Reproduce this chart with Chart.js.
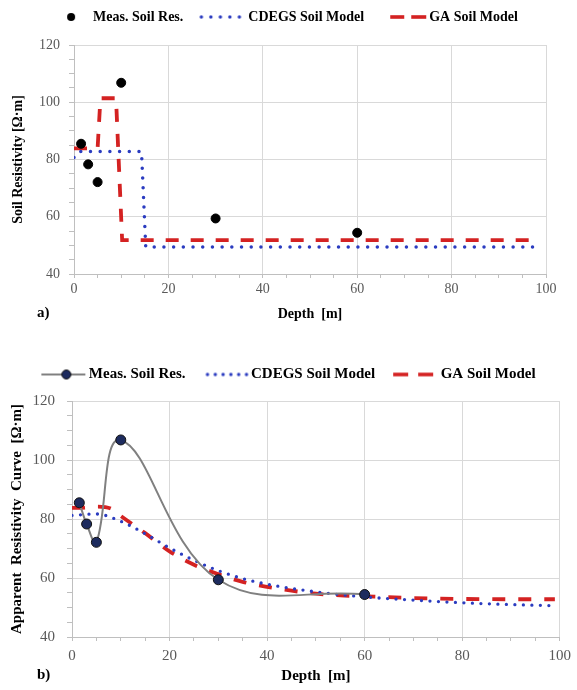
<!DOCTYPE html>
<html>
<head>
<meta charset="utf-8">
<script src="https://cdn.jsdelivr.net/npm/chart.js@4.4.1/dist/chart.umd.min.js"></script>
<style>
  html, body { margin: 0; padding: 0; background: #fff; }
  body { width: 577px; height: 690px; position: relative; overflow: hidden; }
  .box { position: absolute; left: 0; width: 577px; }
  #boxA { top: 0; height: 330px; }
  #boxB { top: 340px; height: 350px; }
  .tag { position: absolute; font: bold 15px 'Liberation Serif', serif; color: #000; }
</style>
</head>
<body>
<div class="box" id="boxA"><canvas id="chartA"></canvas></div>
<div class="box" id="boxB"><canvas id="chartB"></canvas></div>
<div class="tag" style="left:37px; top:304px">a)</div>
<div class="tag" style="left:37px; top:666px">b)</div>

<script>
/* ---------- données ---------- */
const legendLabels = ['Meas. Soil Res.', 'CDEGS Soil Model', 'GA Soil Model'];

// mesures (profondeur m, résistivité Ω·m)
const measDepth = [1.5, 3, 5, 10, 30, 60];
const measRes   = [85.5, 78.3, 72.1, 106.8, 59.4, 54.4];

// a) modèles en couches
const cdegsStepDepth = [0, 1, 14.3, 15.2, 98.5];
const cdegsStepRes   = [80.7, 82.8, 82.8, 49.4, 49.4];
const gaStepDepth    = [0, 5, 5.6, 8.9, 10.2, 97.5];
const gaStepRes      = [83.9, 83.9, 101.4, 101.4, 51.8, 51.8];

// b) courbes de résistivité apparente
const cdegsCurveDepth = [0, 5, 10, 15, 20, 25, 30, 35, 40, 50, 60, 70, 80, 90, 99];
const cdegsCurveRes   = [81.2, 81.7, 79.2, 75, 70.2, 66, 62.5, 59.8, 57.9, 55.3, 53.6, 52.5, 51.6, 51, 50.6];
const gaCurveDepth    = [0, 2, 5, 8, 10, 15, 20, 25, 30, 35, 40, 45, 50, 55, 60, 70, 80, 90, 99];
const gaCurveRes      = [83.8, 83.8, 84.2, 83.5, 81, 75.2, 69, 64.5, 61.3, 58.7, 57, 55.7, 54.7, 54.1, 53.8, 53.2, 52.9, 52.8, 52.8];

const xTicks = [0, 20, 40, 60, 80, 100];
const yTicks = [40, 60, 80, 100, 120];

/* ---------- style ---------- */
const SERIF = "'Liberation Serif', 'Times New Roman', serif";
const BLUE  = '#2b3cc0';
const RED   = '#d42222';
const GREY  = '#808080';
const NAVY  = '#1d2b5e';

const pts = (xs, ys) => xs.map((x, i) => ({ x, y: ys[i] }));

// Icônes de légende : canvas 68px, zone "boîte" de 52px décalée de 8px
function icon(draw) {
  const c = document.createElement('canvas');
  c.width = 68; c.height = 14;
  const g = c.getContext('2d');
  g.translate(8, 7);
  draw(g);
  return c;
}
const dotIcon = (cx) => icon(g => {
  g.fillStyle = '#000';
  g.beginPath(); g.arc(cx, 0, 4, 0, Math.PI * 2); g.fill();
});
const dotsIcon = (x0, n, step) => icon(g => {
  g.fillStyle = BLUE;
  for (let i = 0; i < n; i++) { g.beginPath(); g.arc(x0 + i * step, 0, 1.7, 0, Math.PI * 2); g.fill(); }
});
const dashIcon = (a, b) => icon(g => {
  g.fillStyle = RED;
  g.fillRect(a[0], -1.8, a[1] - a[0], 3.6);
  g.fillRect(b[0], -1.8, b[1] - b[0], 3.6);
});
const lineMarkerIcon = () => icon(g => {
  g.strokeStyle = GREY; g.lineWidth = 2;
  g.beginPath(); g.moveTo(12, 0); g.lineTo(56, 0); g.stroke();
  g.fillStyle = NAVY; g.strokeStyle = '#111'; g.lineWidth = 1;
  g.beginPath(); g.arc(37, 0, 4.5, 0, Math.PI * 2); g.fill(); g.stroke();
});

// agrandir la hauteur de la légende sans déplacer son texte
const legendGap = {
  id: 'legendGap',
  afterInit(chart, args, opts) {
    const lg = chart.legend;
    if (!lg) return;
    const fit = lg.fit;
    lg.fit = function () { fit.call(this); this.height += opts.extra || 0; };
  }
};

function xAxis(size, tickPad, titlePad, height) {
  return {
    type: 'linear', min: 0, max: 100,
    afterFit: s => { s.height = height; },
    ticks: {
      stepSize: 5, autoSkip: false, maxRotation: 0, padding: tickPad,
      color: '#595959', font: { family: SERIF, size: size },
      callback: v => (xTicks.includes(v) ? v : '')
    },
    grid: {
      color: c => (c.tick && xTicks.includes(c.tick.value) ? '#d9d9d9' : 'rgba(0,0,0,0)'),
      tickColor: '#bfbfbf', tickLength: 4
    },
    border: { color: '#bfbfbf' },
    title: {
      display: true, text: 'Depth  [m]', color: '#000',
      font: { family: SERIF, size: size, weight: 'bold' }, padding: titlePad
    }
  };
}

function yAxis(size, tickPad, title, titlePad, width) {
  return {
    type: 'linear', min: 40, max: 120,
    afterFit: s => { s.width = width; },
    ticks: {
      stepSize: 5, autoSkip: false, padding: tickPad,
      color: '#595959', font: { family: SERIF, size: size },
      callback: v => (yTicks.includes(v) ? v : '')
    },
    grid: {
      color: c => (c.tick && yTicks.includes(c.tick.value) ? '#d9d9d9' : 'rgba(0,0,0,0)'),
      tickColor: '#bfbfbf', tickLength: 5
    },
    border: { color: '#bfbfbf' },
    title: {
      display: true, text: title, color: '#000',
      font: { family: SERIF, size: size, weight: 'bold' }, padding: titlePad
    }
  };
}

function legend(size, icons) {
  return {
    display: true, position: 'top', align: 'center',
    labels: {
      usePointStyle: true, pointStyleWidth: 52, padding: 6,
      color: '#000', font: { family: SERIF, size: size, weight: 'bold' },
      generateLabels: () => legendLabels.map((t, i) => ({
        text: t, pointStyle: icons[i], fillStyle: 'rgba(0,0,0,0)',
        strokeStyle: 'rgba(0,0,0,0)', lineWidth: 0, hidden: false, datasetIndex: i
      }))
    }
  };
}

/* ---------- a) ---------- */
new Chart(document.getElementById('chartA'), {
  type: 'scatter',
  data: {
    datasets: [
      {
        label: legendLabels[0], data: pts(measDepth, measRes), showLine: false,
        pointRadius: 4.5, pointBackgroundColor: '#000', pointBorderColor: '#000'
      },
      {
        label: legendLabels[1], data: pts(cdegsStepDepth, cdegsStepRes), showLine: true,
        borderColor: BLUE, borderWidth: 3.5, borderDash: [0, 9.7], borderCapStyle: 'round',
        pointRadius: 0, tension: 0
      },
      {
        label: legendLabels[2], data: pts(gaStepDepth, gaStepRes), showLine: true,
        borderColor: RED, borderWidth: 3.8, borderDash: [13, 12], borderCapStyle: 'butt',
        pointRadius: 0, tension: 0
      }
    ]
  },
  options: {
    responsive: true, maintainAspectRatio: false, animation: false, devicePixelRatio: 1,
    layout: { padding: { top: 4, left: 6, right: 31, bottom: 0 } },
    plugins: {
      legend: legend(14, [dotIcon(37), dotsIcon(12, 5, 9.5), dashIcon([20, 34], [41, 56])]),
      legendGap: { extra: 11 },
      tooltip: { enabled: false }
    },
    scales: {
      x: xAxis(14, 3, { top: 2, bottom: 7 }, 56),
      y: yAxis(14, 9, 'Soil Resistivity [Ω·m]', { top: 4, bottom: 0 }, 68)
    }
  },
  plugins: [legendGap]
});

/* ---------- b) ---------- */
new Chart(document.getElementById('chartB'), {
  type: 'scatter',
  data: {
    datasets: [
      {
        label: legendLabels[0], data: pts(measDepth, measRes), showLine: true,
        borderColor: GREY, borderWidth: 2, tension: 0.4,
        pointRadius: 5, pointBackgroundColor: NAVY, pointBorderColor: '#111', pointBorderWidth: 1
      },
      {
        label: legendLabels[1], data: pts(cdegsCurveDepth, cdegsCurveRes), showLine: true,
        borderColor: BLUE, borderWidth: 3.3, borderDash: [0, 8.5], borderCapStyle: 'round',
        pointRadius: 0, cubicInterpolationMode: 'monotone'
      },
      {
        label: legendLabels[2], data: pts(gaCurveDepth, gaCurveRes), showLine: true,
        borderColor: RED, borderWidth: 3.8, borderDash: [13, 13], borderCapStyle: 'butt',
        pointRadius: 0, cubicInterpolationMode: 'monotone'
      }
    ]
  },
  options: {
    responsive: true, maintainAspectRatio: false, animation: false, devicePixelRatio: 1,
    layout: { padding: { top: 21, left: 4, right: 16, bottom: 0 } },
    plugins: {
      legend: legend(15, [lineMarkerIcon(), dotsIcon(16, 6, 7.8), dashIcon([12, 27], [37, 52])]),
      legendGap: { extra: 9 },
      tooltip: { enabled: false }
    },
    scales: {
      x: xAxis(15, 6, { top: 2, bottom: 5 }, 53),
      y: yAxis(15, 12, 'Apparent  Resistivity  Curve  [Ω·m]', { top: 4, bottom: 0 }, 68)
    }
  },
  plugins: [legendGap]
});
</script>
</body>
</html>
